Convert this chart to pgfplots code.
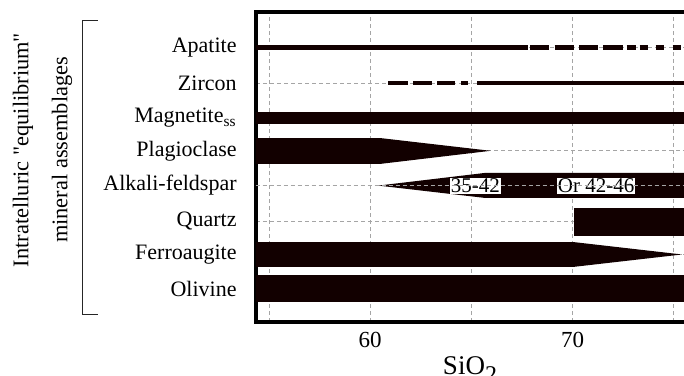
\documentclass[border=0pt]{standalone}
\usepackage{fontspec}
\setmainfont{Liberation Serif}[Ligatures=TeXOff]
\usepackage{pgfplots}
\pgfplotsset{compat=1.18}
\definecolor{barc}{RGB}{18,0,0}
\definecolor{gridc}{RGB}{165,165,165}
\begin{document}
\begin{tikzpicture}
\begin{axis}[
  name=ax,
  scale only axis, width=214pt, height=155pt,
  xmin=54.36, xmax=75.5, ymin=0, ymax=9,
  axis lines*=left,
  axis line style={line width=1.6pt, line cap=rect},
  xtick={55,60,65,70,75}, xticklabels={,60,,70,},
  ytick={0.97,1.96,2.92,3.96,4.97,5.92,6.94,7.98},
  yticklabels={Olivine,Ferroaugite,Quartz\hspace{-3pt},Alkali-feldspar,Plagioclase,Magnetite\textsubscript{ss},Zircon\hspace{2.5pt},Apatite},
  major tick length=0pt,
  grid=major,
  major grid style={gridc, dash pattern=on 2pt off 1.5pt, line width=0.4pt},
  xticklabel style={font=\fontsize{11.5}{12}\selectfont, inner sep=0pt, anchor=north, yshift=-5pt},
  yticklabel style={font=\fontsize{11}{12}\selectfont, inner sep=0pt, anchor=east, xshift=-9.5pt},
  xlabel={SiO\raisebox{-4pt}{\fontsize{12}{12}\selectfont 2}},
  every axis x label/.style={at={(axis description cs:0.5,0)}, anchor=north, yshift=-17pt, inner sep=0pt, font=\fontsize{13.5}{14}\selectfont},
  ylabel={Intratelluric "equilibrium"\\mineral assemblages},
  every axis y label/.style={at={(axis description cs:-0.4988,0.555)}, rotate=90, anchor=center, align=center, font=\fontsize{11.2}{19.5}\selectfont},
]
% Olivine
\addplot[fill=barc, draw=none] coordinates {(54,0.58) (76,0.58) (76,1.36) (54,1.36)} -- cycle;
% Ferroaugite
\addplot[fill=barc, draw=none] coordinates {(54,1.60) (70.05,1.60) (75.4,1.96) (70.05,2.32) (54,2.32)} -- cycle;
% Quartz
\addplot[fill=barc, draw=none] coordinates {(70.05,2.50) (76,2.50) (76,3.31) (70.05,3.31)} -- cycle;
% Alkali-feldspar
\addplot[fill=barc, draw=none] coordinates {(60.4,3.96) (65.7,3.60) (76,3.60) (76,4.33) (65.7,4.33)} -- cycle;
% Plagioclase
\addplot[fill=barc, draw=none] coordinates {(54,4.59) (60.5,4.59) (65.95,4.97) (60.5,5.34) (54,5.34)} -- cycle;
% Magnetite
\addplot[fill=barc, draw=none] coordinates {(54,5.75) (76,5.75) (76,6.10) (54,6.10)} -- cycle;
% Zircon
\addplot[barc, line width=2.2pt, dash pattern=on 10pt off 2.5pt on 9.5pt off 2.5pt on 9pt off 3pt on 3.5pt off 20pt] coordinates {(60.89,6.94) (64.85,6.94)};
\addplot[barc, line width=2.2pt] coordinates {(65.3,6.94) (76,6.94)};
% Apatite
\addplot[barc, line width=2.4pt] coordinates {(54,7.98) (67.77,7.98)};
\addplot[barc, line width=2.4pt, dash pattern=on 9.6pt off 2.6pt] coordinates {(67.9,7.98) (72.5,7.98)};
\addplot[barc, line width=2.4pt, dash pattern=on 4.5pt off 2pt on 4pt off 4pt on 4pt off 4.5pt on 4pt off 20pt] coordinates {(72.67,7.98) (75.5,7.98)};
% labels inside alkali-feldspar bar
\node[fill=white, inner sep=0.5pt, font=\fontsize{10.5}{11}\selectfont] at (axis cs:65.2,3.96) {35-42};
\node[fill=white, inner sep=0.5pt, font=\fontsize{10.5}{11}\selectfont] at (axis cs:71.16,3.96) {Or 42-46};
\addplot[gridc, dash pattern=on 2pt off 1.5pt, line width=0.4pt] coordinates {(54,3.96) (76,3.96)};
\end{axis}
\draw[line width=1.6pt, line cap=rect] (ax.north west) -- (ax.north east);
% bracket
\draw[line width=0.5pt, black!85] ([shift={(-79pt,150.5pt)}]ax.south west) -- ([shift={(-86.5pt,150.5pt)}]ax.south west) -- ([shift={(-86.5pt,3.5pt)}]ax.south west) -- ([shift={(-79pt,3.5pt)}]ax.south west);
\pgfresetboundingbox
\path[use as bounding box] ([shift={(-128pt,-27pt)}]ax.south west) rectangle ([shift={(0pt,6pt)}]ax.north east);
\end{tikzpicture}
\end{document}
